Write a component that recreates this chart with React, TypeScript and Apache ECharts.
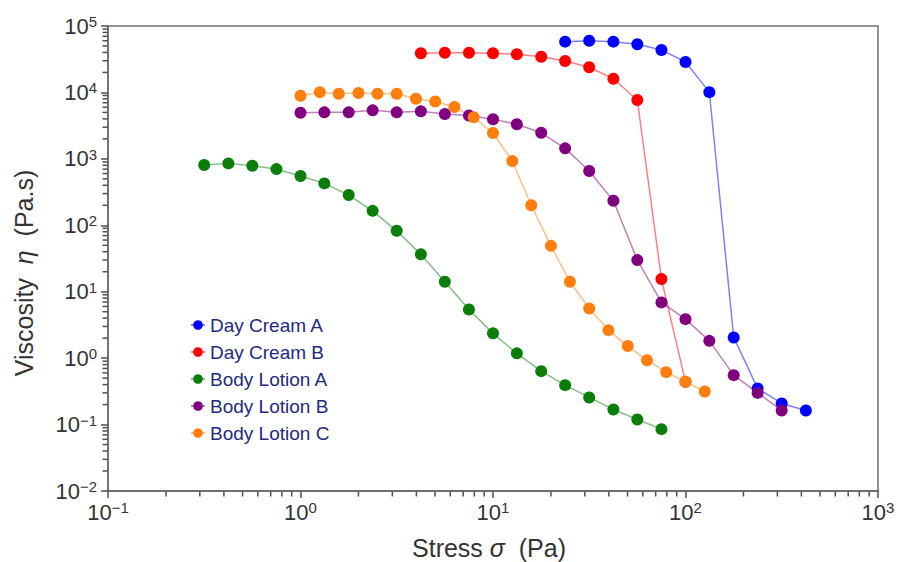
import React, { useEffect, useRef } from 'react';
import * as echarts from 'echarts';

const FONT = 'Arial, "Liberation Sans", Helvetica, sans-serif';
const AXIS_COLOR = '#707070';
const TICK_COLOR = '#505050';
const TEXT_COLOR = '#333333';
const LEGEND_COLOR = '#1f2a80';

const X_MIN = 0.1;
const X_MAX = 1000;
const Y_MIN = 0.01;
const Y_MAX = 100000;

const seriesNames = ['Day Cream A', 'Day Cream B', 'Body Lotion A', 'Body Lotion B', 'Body Lotion C'];
const seriesColors = ['#0000ff', '#ff0000', '#0a7d0a', '#800080', '#ff7f0e'];

const dayCreamAStress = [23.7, 31.6, 42.2, 56.2, 75, 100, 133, 178, 237, 316, 422];
const dayCreamAVisc = [58100, 60100, 58100, 53000, 43600, 28700, 10100, 2.05, 0.35, 0.208, 0.163];

const dayCreamBStress = [4.22, 5.62, 7.5, 10, 13.3, 17.8, 23.7, 31.6, 42.2, 56.2, 75, 100];
const dayCreamBVisc = [38800, 39600, 39600, 38800, 37500, 34500, 29700, 23900, 16100, 7690, 15.5, 0.44];

const bodyLotionAStress = [0.316, 0.422, 0.562, 0.75, 1.0, 1.33, 1.78, 2.37, 3.16, 4.22, 5.62, 7.5, 10, 13.3, 17.8, 23.7, 31.6, 42.2, 56.2, 75];
const bodyLotionAVisc = [807, 855, 787, 701, 551, 427, 285, 165, 82.6, 36.5, 14.1, 5.41, 2.36, 1.18, 0.637, 0.392, 0.256, 0.169, 0.119, 0.0853];

const bodyLotionBStress = [1, 1.33, 1.78, 2.37, 3.16, 4.22, 5.62, 7.5, 10, 13.3, 17.8, 23.7, 31.6, 42.2, 56.2, 75, 100, 133, 178, 237, 316];
const bodyLotionBVisc = [4940, 5010, 5010, 5370, 5010, 5190, 4730, 4490, 3950, 3320, 2470, 1440, 655, 234, 29.9, 6.9, 3.86, 1.82, 0.555, 0.3, 0.163];

const bodyLotionCStress = [1.0, 1.26, 1.58, 2.0, 2.51, 3.16, 3.98, 5.01, 6.31, 7.94, 10, 12.6, 15.8, 20, 25.1, 31.6, 39.8, 50.1, 63.1, 79.4, 100, 126];
const bodyLotionCVisc = [8900, 10100, 9560, 9790, 9560, 9560, 8040, 7300, 6030, 4220, 2450, 927, 200, 49, 14.1, 5.6, 2.64, 1.52, 0.93, 0.615, 0.44, 0.315];

const stressLists = [dayCreamAStress, dayCreamBStress, bodyLotionAStress, bodyLotionBStress, bodyLotionCStress];
const viscLists = [dayCreamAVisc, dayCreamBVisc, bodyLotionAVisc, bodyLotionBVisc, bodyLotionCVisc];

// minor tick positions (2..9 within each decade)
const minorMultipliers = [2, 3, 4, 5, 6, 7, 8, 9];
const xDecades = [0.1, 1, 10, 100];
const yDecades = [0.01, 0.1, 1, 10, 100, 1000, 10000];
const xMinorTicks = xDecades.flatMap((d) => minorMultipliers.map((m) => m * d));
const yMinorTicks = yDecades.flatMap((d) => minorMultipliers.map((m) => m * d));

const expLabel = (v: number) => {
  const e = Math.round(Math.log10(v));
  const s = e < 0 ? '\u2212' + String(-e) : String(e);
  return `{b|10}{s|${s}}`;
};

const labelRich = {
  b: { fontSize: 22, fontFamily: FONT, color: TEXT_COLOR, lineHeight: 24 },
  s: { fontSize: 15, fontFamily: FONT, color: TEXT_COLOR, lineHeight: 15, verticalAlign: 'top' },
};

const titleGraphics = [
  {
    type: 'text',
    x: 24,
    y: 273,
    rotation: Math.PI / 2,
    silent: true,
    style: {
      text: 'Viscosity  {i|\u03b7}  (Pa.s)',
      fontSize: 25,
      fontFamily: FONT,
      fill: TEXT_COLOR,
      align: 'center',
      verticalAlign: 'middle',
      rich: { i: { fontSize: 25, fontFamily: FONT, fontStyle: 'italic', fill: TEXT_COLOR, color: TEXT_COLOR } },
    },
  },
  {
    type: 'text',
    x: 489,
    y: 548,
    silent: true,
    style: {
      text: 'Stress {i|\u03c3}  (Pa)',
      fontSize: 25,
      fontFamily: FONT,
      fill: TEXT_COLOR,
      align: 'center',
      verticalAlign: 'middle',
      rich: { i: { fontSize: 25, fontFamily: FONT, fontStyle: 'italic', fill: TEXT_COLOR, color: TEXT_COLOR } },
    },
  },
];

const minorTickSeries = (axis: 'x' | 'y') => ({
  type: 'scatter',
  silent: true,
  clip: false,
  z: 6,
  symbol: 'rect',
  symbolSize: axis === 'x' ? [1.5, 5] : [5, 1.5],
  symbolOffset: axis === 'x' ? [0, 3] : [-3, 0],
  itemStyle: { color: TICK_COLOR, opacity: 1 },
  data: axis === 'x' ? xMinorTicks.map((v) => [v, Y_MIN]) : yMinorTicks.map((v) => [X_MIN, v]),
});

export default function App() {
  const ref = useRef<HTMLDivElement>(null);

  useEffect(() => {
    document.body.style.margin = '0';
    if (!ref.current) return;
    const chart = echarts.init(ref.current, null, { renderer: 'svg' });

    const lineSeries = seriesNames.map((name, i) => ({
      name,
      type: 'line',
      data: stressLists[i].map((x, j) => [x, viscLists[i][j]]),
      symbol: 'circle',
      symbolSize: 12,
      color: seriesColors[i],
      itemStyle: { color: seriesColors[i], opacity: 1 },
      lineStyle: { color: seriesColors[i], width: 1.5, opacity: 0.5 },
      z: 3,
    }));

    const option: any = {
      animation: false,
      grid: {
        left: 108,
        right: 21,
        top: 26,
        bottom: 71,
        show: true,
        borderColor: AXIS_COLOR,
        borderWidth: 1.5,
      },
      xAxis: {
        type: 'log',
        logBase: 10,
        min: X_MIN,
        max: X_MAX,
        splitNumber: 4,
        axisLine: { show: true, lineStyle: { color: AXIS_COLOR, width: 1.8 } },
        axisTick: { show: true, inside: false, length: 7, lineStyle: { color: TICK_COLOR, width: 1.5 } },
        splitLine: { show: false },
        axisLabel: { margin: 9, formatter: expLabel, rich: labelRich },
      },
      yAxis: {
        type: 'log',
        logBase: 10,
        min: Y_MIN,
        max: Y_MAX,
        splitNumber: 7,
        axisLine: { show: true, lineStyle: { color: AXIS_COLOR, width: 1.8 } },
        axisTick: { show: true, inside: false, length: 7, lineStyle: { color: TICK_COLOR, width: 1.5 } },
        splitLine: { show: false },
        axisLabel: { margin: 11, formatter: expLabel, rich: labelRich },
      },
      legend: {
        show: true,
        orient: 'vertical',
        left: 185,
        top: 310,
        itemWidth: 14,
        itemHeight: 12,
        itemGap: 7,
        data: seriesNames,
        textStyle: { fontSize: 19, fontFamily: FONT, color: LEGEND_COLOR, lineHeight: 20 },
      },
      graphic: titleGraphics,
      series: [...lineSeries, minorTickSeries('x'), minorTickSeries('y')],
    };

    chart.setOption(option);
    return () => chart.dispose();
  }, []);

  return <div ref={ref} style={{ width: 899, height: 562, overflow: 'hidden' }} />;
}
